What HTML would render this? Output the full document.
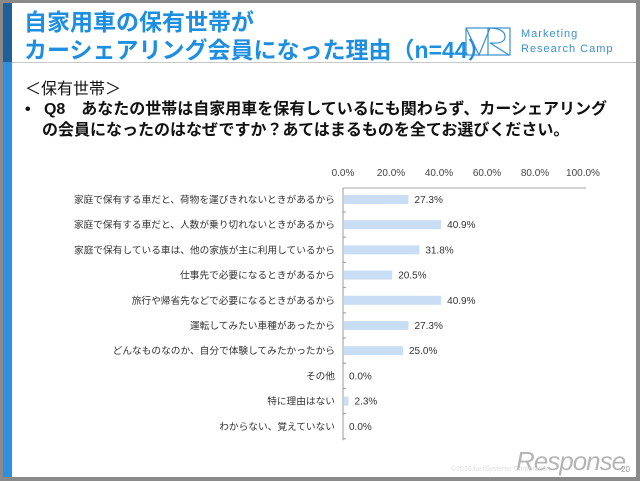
<!DOCTYPE html>
<html><head><meta charset="utf-8">
<style>
html,body{margin:0;padding:0;}
body{width:640px;height:481px;background:#8a8a8a;position:relative;overflow:hidden;font-family:"Liberation Sans","Noto Sans CJK JP",sans-serif;}
#slide{position:absolute;left:3px;top:3px;width:633px;height:474px;background:#fff;}
.abs{position:absolute;}
</style></head><body>
<div id="slide">
  <div class="abs" style="left:0;top:0;width:9px;height:59px;background:#1f5f9a"></div>
  <div class="abs" style="left:0;top:59px;width:9px;height:415px;background:#2f8fe0"></div>
  <div class="abs" style="left:9px;top:59px;width:624px;height:1px;background:#c8c8c8"></div>
  <div class="abs" style="left:21px;top:5px;color:#1e8fe0;font-size:23px;line-height:28px;font-weight:bold;font-family:'Liberation Sans','Noto Sans CJK JP',sans-serif;white-space:nowrap">自家用車の保有世帯が<br>カーシェアリング会員になった理由（n=44）</div>
  <svg class="abs" style="left:462px;top:22px" width="48" height="36"><rect x="1" y="3" width="44" height="27" fill="none" stroke="#3a8fd0" stroke-width="1.2"/><path d="M1 3 L14 30 L25 3 M23 3 L23 30 M23 3 Q40 3 40 12 Q40 19 25 18 L44 30" fill="none" stroke="#3a8fd0" stroke-width="1.2"/></svg>
  <div class="abs" style="left:518px;top:24px;color:#3a8fd0;font-size:11px;line-height:15px;letter-spacing:1px">Marketing<br>Research Camp</div>
  <div class="abs" style="left:22px;top:72px;font-size:16px;color:#111">＜保有世帯＞</div>
  <div class="abs" style="left:22px;top:96px;font-size:16px;line-height:21px;color:#111;font-weight:bold;width:600px;white-space:nowrap">•&nbsp;&nbsp;&nbsp;Q8　あなたの世帯は自家用車を保有しているにも関わらず、カーシェアリング<br><span style="padding-left:17px">の会員になったのはなぜですか？あてはまるものを全てお選びください。</span></div>
  <div class="abs" style="left:513px;top:443px;font-size:26px;color:#b5b5b5;font-style:italic;letter-spacing:-1px">Response</div>
  <div class="abs" style="left:448px;top:463px;font-size:7px;color:#ddd">©2016JustSystems Corporation</div>
  <div class="abs" style="left:618px;top:462px;font-size:8px;color:#999">20</div>
</div>
<svg id="chart" class="abs" style="left:0;top:0" width="640" height="481"></svg>
<script>
const categories=["家庭で保有する車だと、荷物を運びきれないときがあるから","家庭で保有する車だと、人数が乗り切れないときがあるから","家庭で保有している車は、他の家族が主に利用しているから","仕事先で必要になるときがあるから","旅行や帰省先などで必要になるときがあるから","運転してみたい車種があったから","どんなものなのか、自分で体験してみたかったから","その他","特に理由はない","わからない、覚えていない"];
const values=[27.3,40.9,31.8,20.5,40.9,27.3,25.0,0.0,2.3,0.0];
const ticks=[0,20,40,60,80,100];
(function(){
const svg=document.getElementById('chart');
const NS='http://www.w3.org/2000/svg';
const x0=343,x1=583,yTop=188,step=25.2,firstY=199.5;
const xs=v=>x0+(v/100)*(x1-x0);
const ys=i=>firstY+i*step;
function mk(t,a){const e=document.createElementNS(NS,t);for(const k in a)e.setAttribute(k,a[k]);svg.appendChild(e);return e;}
ticks.forEach(t=>{const e=mk('text',{x:xs(t),y:176,'text-anchor':'middle','font-size':'10','fill':'#444','font-family':'Liberation Sans, sans-serif'});e.textContent=t.toFixed(1)+'%';

});
const topLine=mk('line',{x1:x0,y1:yTop,x2:x1+3,y2:yTop,stroke:'#aaa','stroke-width':1});


const ax=mk('line',{x1:x0,y1:yTop,x2:x0,y2:ys(categories.length-1)+14,stroke:'#999','stroke-width':1});


categories.forEach((c,i)=>{
 const y=ys(i);
 const tk=mk('line',{x1:x0,y1:y+12.5,x2:x0+3,y2:y+12.5,stroke:'#999'});
 
 
 const l=mk('text',{x:x0-8,y:y+3.5,'text-anchor':'end','font-size':'9.7','fill':'#333','font-family':'Liberation Sans, Noto Sans CJK JP, sans-serif'});l.textContent=c;
 
 
 const w=xs(values[i])-x0;
 const b=mk('rect',{x:x0+1,y:y-4.5,width:Math.max(0,w-1),height:9,fill:'#c9ddf4'});
 
 
 const v=mk('text',{x:xs(values[i])+6,y:y+3.5,'font-size':'10','fill':'#333','font-family':'Liberation Sans, sans-serif'});v.textContent=values[i].toFixed(1)+'%';
 
 
});
})();
</script>
</body></html>
